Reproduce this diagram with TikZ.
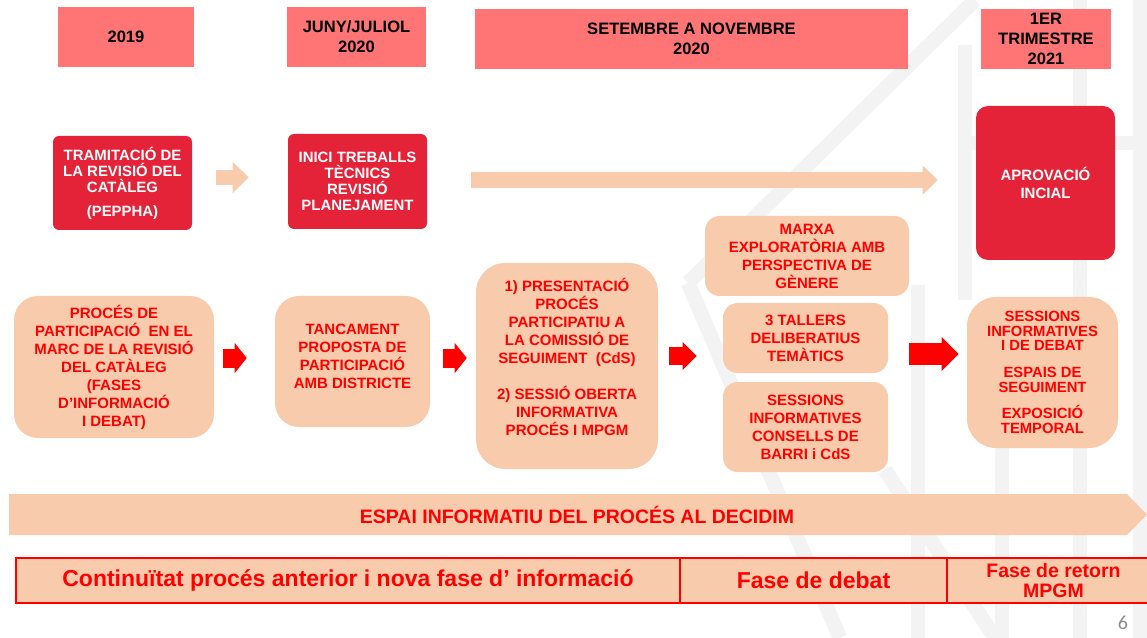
\documentclass[tikz,border=0pt]{standalone}
\usepackage{fontspec}
\setmainfont{Liberation Sans}
\newfontfamily\pagefont{Carlito}
\usepackage{tikz}
\usetikzlibrary{arrows.meta}

\definecolor{headsalmon}{RGB}{255,117,117}
\definecolor{boxcrimson}{RGB}{228,35,56}
\definecolor{boxpeach}{RGB}{248,203,173}
\definecolor{textred}{RGB}{255,0,0}
\definecolor{markgray}{RGB}{243,243,243}

\tikzset{
  headbox/.style={fill=headsalmon, inner sep=0pt, align=center,
    font=\bfseries\fontsize{12.4}{15}\selectfont},
  redbox/.style={fill=boxcrimson, text=white, rounded corners=4.5pt, inner sep=0pt,
    align=center, font=\bfseries\fontsize{11.2}{12}\selectfont},
  peachbox/.style={fill=boxpeach, text=textred, rounded corners=18pt, inner sep=0pt,
    align=center, font=\bfseries\fontsize{11.25}{13.5}\selectfont},
  phasecell/.style={draw=textred, line width=1.5pt, fill=boxpeach, text=textred,
    inner sep=0pt, outer sep=0pt, anchor=north west, minimum height=33.75pt,
    align=center, font=\bfseries\fontsize{17.25}{20}\selectfont},
  paleflow/.style={draw=boxpeach},
  redflow/.style={draw=textred},
  watermark/.style={draw=markgray, line width=11pt}
}

\begin{document}
\begin{tikzpicture}[x=0.75pt, y=-0.75pt]
    \useasboundingbox (0,0) rectangle (1147,638);
    \clip (0,0) rectangle (1147,638);
    \fill[white] (0,0) rectangle (1147,638);
    % Marca d'aigua
    \draw[watermark] (688,283) -- (975,0);
    \draw[watermark] (688,283) -- (840,638);
    \draw[watermark] (918,285) -- (918,638);
    \draw[watermark] (965,45) -- (965,300);
    \draw[watermark] (1002,300) -- (1002,638);
    \draw[watermark] (1080,0) -- (1080,638);
    \draw[watermark] (1140,0) -- (1140,638);
    \draw[watermark] (965,143) -- (1147,143);
    \draw[watermark] (885,470) -- (995,638);
    % Calendari
    \node[headbox, minimum width=102pt, minimum height=45pt] (y2019) at (126,37) {2019};
    \node[headbox, minimum width=104.25pt, minimum height=45pt] (yjuny) at (356.5,37) {JUNY/JULIOL\\2020};
    \node[headbox, minimum width=324.75pt, minimum height=45pt] (ysetembre) at (691.5,39) {SETEMBRE A NOVEMBRE\\2020};
    \node[headbox, minimum width=97.5pt, minimum height=45pt] (y2021) at (1046,39) {1ER\\TRIMESTRE\\2021};
    % Tramitacio
    \node[redbox, minimum width=104.25pt, minimum height=70.5pt] (tram) at (122.5,183)
      {TRAMITACIÓ DE\\LA REVISIÓ DEL\\CATÀLEG\\[6pt](PEPPHA)};
    \node[redbox, minimum width=104.25pt, minimum height=71.25pt] (inici) at (357.5,181.5)
      {INICI TREBALLS\\TÈCNICS\\REVISIÓ\\PLANEJAMENT};
    \node[redbox, rounded corners=9pt, minimum width=104.25pt, minimum height=115.5pt,
      font=\bfseries\fontsize{11.25}{13.5}\selectfont] (aprov) at (1045.5,183)
      {APROVACIÓ\\INCIAL};
    \draw[paleflow, line width=11.25pt, -{Triangle[length=12pt, width=23.25pt, line width=0pt]},
      shorten <=18pt, shorten >=29.25pt]
      ([yshift=4.1pt]tram.east) -- ([yshift=4.1pt]tram.east -| inici.west);
    \draw[paleflow, line width=12pt, -{Triangle[length=11.25pt, width=21.75pt, line width=0pt]},
      shorten <=33pt, shorten >=28.5pt]
      ([yshift=1.1pt]inici.east) -- ([yshift=1.1pt]inici.east -| aprov.west);
    % Participacio
    \node[peachbox, minimum width=150pt, minimum height=106.5pt] (proc) at (114,367)
      {PROCÉS DE\\PARTICIPACIÓ~ EN EL\\MARC DE LA REVISIÓ\\DEL CATÀLEG\\(FASES\\D’INFORMACIÓ\\I DEBAT)};
    \node[peachbox, minimum width=116.25pt, minimum height=98.25pt] (tanc) at (352.5,361.5)
      {TANCAMENT\\PROPOSTA DE\\PARTICIPACIÓ\\AMB DISTRICTE\\[-6pt]\mbox{}};
    \node[peachbox, rounded corners=22pt, minimum width=136.5pt, minimum height=154.5pt] (pres) at (567,366)
      {1) PRESENTACIÓ\\PROCÉS\\PARTICIPATIU A\\LA COMISSIÓ DE\\SEGUIMENT~ (CdS)\\[13pt]2) SESSIÓ OBERTA\\INFORMATIVA\\PROCÉS I MPGM\\\mbox{}};
    \node[peachbox, rounded corners=11pt, minimum width=153pt, minimum height=60pt] (marxa) at (807,256)
      {MARXA\\EXPLORATÒRIA AMB\\PERSPECTIVA DE\\GÈNERE};
    \node[peachbox, rounded corners=11pt, minimum width=123.75pt, minimum height=52.5pt] (tallers) at (805.5,338)
      {3 TALLERS\\DELIBERATIUS\\TEMÀTICS};
    \node[peachbox, rounded corners=11pt, minimum width=123.75pt, minimum height=67.5pt] (barri) at (805.5,427)
      {SESSIONS\\INFORMATIVES\\CONSELLS DE\\BARRI i CdS};
    \node[peachbox, rounded corners=22pt, minimum width=113.25pt, minimum height=113.25pt,
      font=\bfseries\fontsize{11.1}{11}\selectfont] (sessions) at (1042.5,372.5)
      {SESSIONS\\INFORMATIVES\\I DE DEBAT\\[9pt]ESPAIS DE\\SEGUIMENT\\[9pt]EXPOSICIÓ\\TEMPORAL};
    \draw[redflow, line width=14.25pt, -{Triangle[length=9pt, width=22.5pt, line width=0pt]},
      shorten <=6.75pt, shorten >=21pt]
      ([yshift=6.75pt]proc.east) -- ([yshift=6.75pt]proc.east -| tanc.west);
    \draw[redflow, line width=14.25pt, -{Triangle[length=9pt, width=22.5pt, line width=0pt]},
      shorten <=9.75pt, shorten >=6.75pt]
      ([yshift=2.6pt]tanc.east) -- ([yshift=2.6pt]tanc.east -| pres.west);
    \draw[redflow, line width=13.5pt, -{Triangle[length=10.5pt, width=21pt, line width=0pt]},
      shorten <=8.25pt, shorten >=19.5pt]
      ([yshift=7.5pt]pres.east) -- ([yshift=7.5pt]pres.east -| tallers.west);
    \draw[redflow, line width=16.5pt, -{Triangle[length=12.75pt, width=25.5pt, line width=0pt]},
      shorten <=15.75pt, shorten >=6pt]
      ([yshift=-12pt]tallers.east) -- ([yshift=-12pt]tallers.east -| sessions.west);
    % Decidim
    \fill[boxpeach] (9,494) -- (1127,494) -- (1147,514.5) -- (1127,535) -- (9,535) -- cycle;
    \node[text=textred, font=\bfseries\fontsize{14.6}{17}\selectfont] (decidim) at (577,514.5)
      {ESPAI INFORMATIU DEL PROCÉS AL DECIDIM};
    % Fases
    \node[phasecell, minimum width=498pt] (contin) at (16,558)
      {Continuïtat procés anterior i nova fase d’ informació};
    \node[phasecell, minimum width=200.25pt] (debat) at (contin.north east) {Fase de debat};
    \node[phasecell, minimum width=159.75pt, font=\bfseries\fontsize{14.6}{15}\selectfont] (retorn)
      at (debat.north east) {Fase de retorn\\MPGM};
    \node[text=black!45, font=\pagefont\fontsize{15}{16}\selectfont] (pagenum) at (1123,623) {6};
\end{tikzpicture}
\end{document}
